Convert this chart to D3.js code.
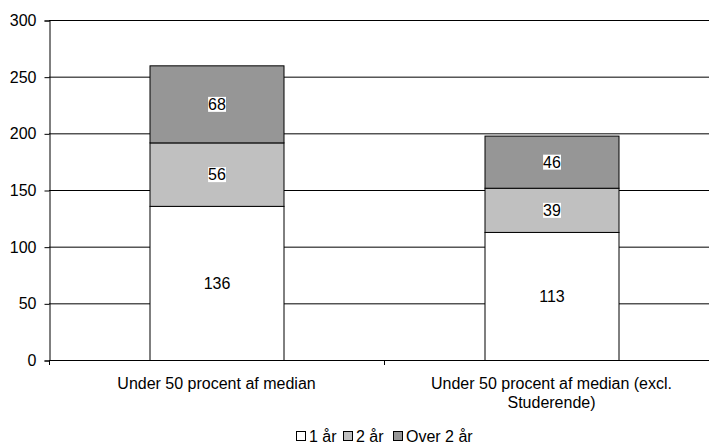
<!DOCTYPE html>
<html><head><meta charset="utf-8">
<script src="https://cdn.jsdelivr.net/npm/d3@7"></script>
<style>body{margin:0;background:#fff}svg{display:block;font-family:"Liberation Sans",Arial,sans-serif}</style>
</head><body><svg id="c" width="709" height="443"></svg>
<script>
const categories = [["Under 50 procent af median"], ["Under 50 procent af median (excl.", "Studerende)"]];
const seriesNames = ["1 år", "2 år", "Over 2 år"];
const seriesColors = ["#ffffff", "#c0c0c0", "#969696"];
const values1Aar = [136, 113];
const values2Aar = [56, 39];
const valuesOver2 = [68, 46];
const yTicks = [0, 50, 100, 150, 200, 250, 300];

const FONT = "Liberation Sans, Arial, sans-serif";
const FS = 16;
const svg = d3.select("#c");
const plotL = 49, plotR = 719, plotT = 20, plotB = 360;
const x = d3.scaleBand().domain(d3.range(categories.length)).range([plotL, plotR]).paddingInner(0.6).paddingOuter(0.3);
const xTickScale = d3.scaleBand().domain(d3.range(categories.length)).range([plotL, plotR]);
const y = d3.scaleLinear().domain([0, 300]).range([plotB, plotT]);

// gridlines
svg.append("g").selectAll("line").data(yTicks.filter(d => d > 0)).join("line")
  .attr("x1", plotL).attr("x2", plotR).attr("y1", d => y(d) + 0.5).attr("y2", d => y(d) + 0.5)
  .attr("stroke", "#000").attr("stroke-width", 1);

// y axis
const yAxis = d3.axisLeft(y).tickValues(yTicks).tickSize(5).tickPadding(8);
const gy = svg.append("g").attr("transform", `translate(${plotL + 0.5},0.5)`).call(yAxis);
gy.attr("font-size", FS).attr("font-family", FONT);
gy.select(".domain").attr("stroke", "#000");
gy.selectAll("text").attr("fill", "#000");

// stacked data
const rows = categories.map((c, i) => ({i, a: values1Aar[i], b: values2Aar[i], c: valuesOver2[i]}));
const stack = d3.stack().keys(["a", "b", "c"])(rows);

stack.forEach((layer, li) => {
  const g = svg.append("g");
  g.selectAll("rect").data(layer).join("rect")
    .attr("x", d => x(d.data.i) + 0.5).attr("width", x.bandwidth())
    .attr("y", d => y(d[1]) + 0.5).attr("height", d => y(d[0]) - y(d[1]))
    .attr("fill", seriesColors[li]).attr("stroke", "#000").attr("stroke-width", 1);
  layer.forEach(d => {
    const v = d[1] - d[0];
    const cx = x(d.data.i) + x.bandwidth() / 2 + 0.5;
    const cy = (y(d[0]) + y(d[1])) / 2;
    const t = g.append("text").attr("x", cx).attr("y", cy + 6).attr("text-anchor", "middle")
      .attr("font-size", FS).attr("font-family", FONT).text(v);
    if (li > 0) {
      const bb = t.node().getBBox();
      g.insert("rect", () => t.node()).attr("x", bb.x).attr("y", bb.y + 1).attr("width", bb.width).attr("height", bb.height - 2).attr("fill", "#fff");
    }
  });
});

// x axis
const gx = svg.append("g");
gx.append("line").attr("x1", plotL).attr("x2", plotR).attr("y1", plotB + 0.5).attr("y2", plotB + 0.5).attr("stroke", "#000");
const tickXs = [plotL, ...xTickScale.domain().map(i => xTickScale(i) + xTickScale.bandwidth())];
gx.selectAll(".tk").data(tickXs).join("line").attr("class", "tk")
  .attr("x1", d => Math.round(d) + 0.5).attr("x2", d => Math.round(d) + 0.5).attr("y1", plotB).attr("y2", plotB + 5).attr("stroke", "#000");
categories.forEach((lines, i) => {
  const t = gx.append("text").attr("text-anchor", "middle").attr("font-size", FS).attr("font-family", FONT).attr("fill", "#000");
  lines.forEach((ln, j) => t.append("tspan").attr("x", x(i) + x.bandwidth() / 2).attr("y", 389 + j * 19).text(ln));
});

// legend
const lg = svg.append("g");
const legendX = [296, 343, 393];
seriesNames.forEach((n, i) => {
  lg.append("rect").attr("x", legendX[i] + 0.5).attr("y", 431.5).attr("width", 9).attr("height", 9)
    .attr("fill", seriesColors[i]).attr("stroke", "#000");
  lg.append("text").attr("x", legendX[i] + 13).attr("y", 441.5).attr("font-size", FS).attr("font-family", FONT).text(n);
});
</script></body></html>
